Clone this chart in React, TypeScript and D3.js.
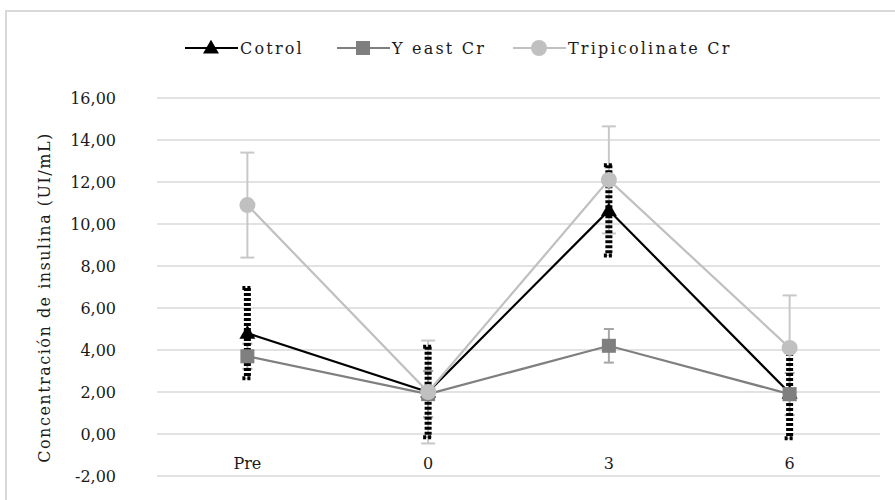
import React, { useEffect, useRef } from 'react';
import * as d3 from 'd3';

const categories = ['Pre', '0', '3', '6'];
const controlValues = [4.8, 2.0, 10.65, 1.95];
const controlErrors = [2.15, 2.15, 2.15, 2.15];
const yeastValues = [3.7, 1.9, 4.2, 1.9];
const yeastErrors = [0.6, 1.1, 0.8, 1.0];
const tripValues = [10.9, 2.0, 12.1, 4.1];
const tripErrors = [2.5, 2.45, 2.55, 2.5];
const yTicks = [-2, 0, 2, 4, 6, 8, 10, 12, 14, 16];
const seriesNames = ['Cotrol', 'Y east Cr', 'Tripicolinate Cr'];

const FONT = "'DejaVu Serif', serif";

const App = () => {
  const ref = useRef<SVGSVGElement>(null);

  useEffect(() => {
    const svg = d3.select(ref.current);
    svg.selectAll('*').remove();

    const left = 157;
    const right = 880;
    const x = d3.scaleBand().domain(categories).range([left, right]);
    const cx = (c: string) => (x(c) as number) + x.bandwidth() / 2;
    const y = d3.scaleLinear().domain([-2, 16]).range([476, 98]);

    // outer chart border
    svg.append('rect')
      .attr('x', 6).attr('y', 11)
      .attr('width', 1000).attr('height', 1000)
      .attr('fill', 'white')
      .attr('stroke', '#d9d9d9')
      .attr('stroke-width', 2);

    // gridlines
    svg.append('g').selectAll('line')
      .data(yTicks)
      .enter()
      .append('line')
      .attr('x1', left).attr('x2', right)
      .attr('y1', d => y(d)).attr('y2', d => y(d))
      .attr('stroke', '#d9d9d9')
      .attr('stroke-width', 1.5);

    const txt = (sel: any) => sel
      .attr('font-family', FONT)
      .attr('font-size', 16)
      .attr('fill', '#1a1a1a');

    // y tick labels
    svg.append('g').selectAll('text')
      .data(yTicks)
      .enter()
      .append('text')
      .attr('x', 116)
      .attr('y', d => y(d))
      .attr('dy', '0.35em')
      .attr('text-anchor', 'end')
      .call(txt)
      .text(d => d3.format('.2f')(d).replace('.', ',').replace('\u2212', '-'));

    // category labels
    svg.append('g').selectAll('text')
      .data(categories)
      .enter()
      .append('text')
      .attr('x', d => cx(d))
      .attr('y', 463)
      .attr('dy', '0.35em')
      .attr('text-anchor', 'middle')
      .call(txt)
      .text(d => d);

    // y axis title
    svg.append('text')
      .attr('transform', `translate(50,${y(6.5)}) rotate(-90)`)
      .attr('text-anchor', 'middle')
      .call(txt)
      .attr('letter-spacing', 1.5)
      .text('Concentración de insulina (UI/mL)');

    const line = d3.line<number>()
      .x((d, i) => cx(categories[i]))
      .y(d => y(d));

    const drawErrors = (vals: number[], errs: number[], color: string, width: number, capW: number, dash?: string) => {
      const g = svg.append('g');
      vals.forEach((v, i) => {
        const px = cx(categories[i]);
        const l = g.append('line')
          .attr('x1', px).attr('x2', px)
          .attr('y1', y(v + errs[i])).attr('y2', y(v - errs[i]))
          .attr('stroke', color)
          .attr('stroke-width', width);
        if (dash) l.attr('stroke-dasharray', dash);
        [v + errs[i], v - errs[i]].forEach(e => {
          const c = g.append('line')
            .attr('x1', px - capW / 2).attr('x2', px + capW / 2)
            .attr('y1', y(e)).attr('y2', y(e))
            .attr('stroke', color)
            .attr('stroke-width', dash ? 4 : width);
          if (dash) c.attr('stroke-dasharray', '3,2');
        });
      });
    };

    const triangle = d3.symbol().type(d3.symbolTriangle).size(110);

    // series lines
    svg.append('path').datum(controlValues).attr('d', line)
      .attr('fill', 'none').attr('stroke', '#000').attr('stroke-width', 2.2);
    svg.append('path').datum(yeastValues).attr('d', line)
      .attr('fill', 'none').attr('stroke', '#7f7f7f').attr('stroke-width', 2.2);
    svg.append('path').datum(tripValues).attr('d', line)
      .attr('fill', 'none').attr('stroke', '#c0c0c0').attr('stroke-width', 2.2);

    // error bars
    drawErrors(tripValues, tripErrors, '#c8c8c8', 2, 14);
    drawErrors(yeastValues, yeastErrors, '#a6a6a6', 2, 10);

    // control markers
    svg.append('g').selectAll('path')
      .data(controlValues)
      .enter()
      .append('path')
      .attr('d', triangle)
      .attr('transform', (d, i) => `translate(${cx(categories[i])},${y(d) + 1})`)
      .attr('fill', '#000');

    drawErrors(controlValues, controlErrors, '#000', 7, 10, '3,2');

    // yeast markers
    svg.append('g').selectAll('rect')
      .data(yeastValues)
      .enter()
      .append('rect')
      .attr('x', (d, i) => cx(categories[i]) - 7)
      .attr('y', d => y(d) - 7)
      .attr('width', 14).attr('height', 14)
      .attr('fill', '#7f7f7f');

    // trip markers
    svg.append('g').selectAll('circle')
      .data(tripValues)
      .enter()
      .append('circle')
      .attr('cx', (d, i) => cx(categories[i]))
      .attr('cy', d => y(d))
      .attr('r', 8)
      .attr('fill', '#c0c0c0');

    // legend
    const legendY = 48;
    const legendItems = [
      { name: seriesNames[0], color: '#000', x0: 185 },
      { name: seriesNames[1], color: '#7f7f7f', x0: 337 },
      { name: seriesNames[2], color: '#c0c0c0', x0: 513 },
    ];
    legendItems.forEach((it, i) => {
      const g = svg.append('g');
      g.append('line')
        .attr('x1', it.x0).attr('x2', it.x0 + 53)
        .attr('y1', legendY).attr('y2', legendY)
        .attr('stroke', it.color).attr('stroke-width', 2.2);
      const mx = it.x0 + 26;
      if (i === 0) {
        g.append('path').attr('d', triangle)
          .attr('transform', `translate(${mx},${legendY + 1})`)
          .attr('fill', it.color);
      } else if (i === 1) {
        g.append('rect').attr('x', mx - 7).attr('y', legendY - 7)
          .attr('width', 14).attr('height', 14).attr('fill', it.color);
      } else {
        g.append('circle').attr('cx', mx).attr('cy', legendY).attr('r', 8)
          .attr('fill', it.color);
      }
      g.append('text')
        .attr('x', it.x0 + 55).attr('y', legendY)
        .attr('dy', '0.35em')
        .call(txt)
        .attr('letter-spacing', 2.2)
        .text(it.name);
    });
  }, []);

  return (
    <div style={{ position: 'absolute', left: 0, top: 0 }}>
      <svg ref={ref} width={895} height={500} style={{ display: 'block' }}></svg>
    </div>
  );
};

export default App;
